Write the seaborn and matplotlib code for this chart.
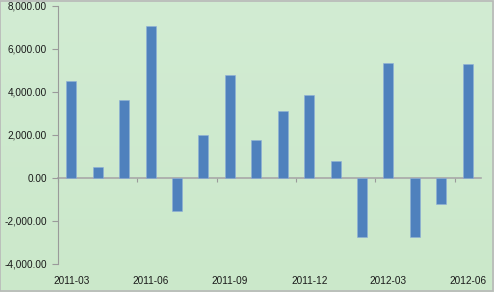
import matplotlib
matplotlib.use("Agg")
import matplotlib.pyplot as plt
import seaborn as sns
import pandas as pd
import numpy as np
from matplotlib.ticker import FuncFormatter
from matplotlib.patches import Rectangle
from matplotlib.colors import LinearSegmentedColormap

months = ["2011-03", "2011-04", "2011-05", "2011-06", "2011-07", "2011-08",
          "2011-09", "2011-10", "2011-11", "2011-12", "2012-01", "2012-02",
          "2012-03", "2012-04", "2012-05", "2012-06"]
values = [4530, 530, 3650, 7070, -1530, 2000, 4790, 1770, 3120, 3860,
          810, -2730, 5330, -2730, -1210, 5290]
y_ticks = [-4000, -2000, 0, 2000, 4000, 6000, 8000]

df = pd.DataFrame({"month": months, "value": values})

sns.set_theme(style="white")
plt.rcParams["font.family"] = ["Liberation Sans", "DejaVu Sans"]

fig = plt.figure(figsize=(4.94, 2.92), dpi=100)
# background gradient
bg = fig.add_axes([0, 0, 1, 1], zorder=-10)
grad = np.linspace(0, 1, 256).reshape(-1, 1)
cmap = LinearSegmentedColormap.from_list("g", ["#d2ecd3", "#cbe8ca"])
bg.imshow(grad, aspect="auto", cmap=cmap, extent=[0, 1, 0, 1], origin="upper")
bg.set_axis_off()
fig.patches.append(Rectangle((0.001, 0.002), 0.997, 0.995, transform=fig.transFigure,
                             fill=False, edgecolor="#b8b8b8", linewidth=1.2))

ax = fig.add_axes([0.1174, 0.0959, 0.8563, 0.8836])
ax.patch.set_alpha(0)
sns.barplot(data=df, x="month", y="value", color="#4f81bd", width=0.38,
            saturation=1, edgecolor="#8fb0d8", linewidth=0.4, ax=ax)

ax.set_ylim(-4000, 8000)
ax.set_xlim(-0.5, len(months) - 0.5)
ax.set_yticks(y_ticks)
ax.yaxis.set_major_formatter(FuncFormatter(lambda v, p: f"{v:,.2f}"))
ax.tick_params(axis="y", direction="out", length=4, width=0.8, color="#9a9a9a",
               labelsize=7.2, labelcolor="#1a1a1a", pad=4, left=True)

# x labels at bottom
ax.set_xticks(range(0, len(months), 3))
ax.set_xticklabels([months[i] for i in range(0, len(months), 3)])
ax.tick_params(axis="x", length=0, labelsize=7.2, labelcolor="#1a1a1a", pad=9)
ax.set_xlabel("")
ax.set_ylabel("")

for s in ["top", "right", "bottom"]:
    ax.spines[s].set_visible(False)
ax.spines["left"].set_color("#9a9a9a")
ax.spines["left"].set_linewidth(0.8)

# zero axis line with tick marks at category boundaries
loc = (0 - (-4000)) / (8000 - (-4000))
sec = ax.secondary_xaxis(loc)
sec.set_xticks(np.arange(-0.5, len(months), 3))
sec.set_xticklabels([])
sec.tick_params(axis="x", direction="out", length=3, width=0.8, color="#9a9a9a")
sec.spines["bottom"].set_color("#a8a8a8")
sec.spines["bottom"].set_linewidth(1.2)

fig.savefig("out.png", dpi=100)
